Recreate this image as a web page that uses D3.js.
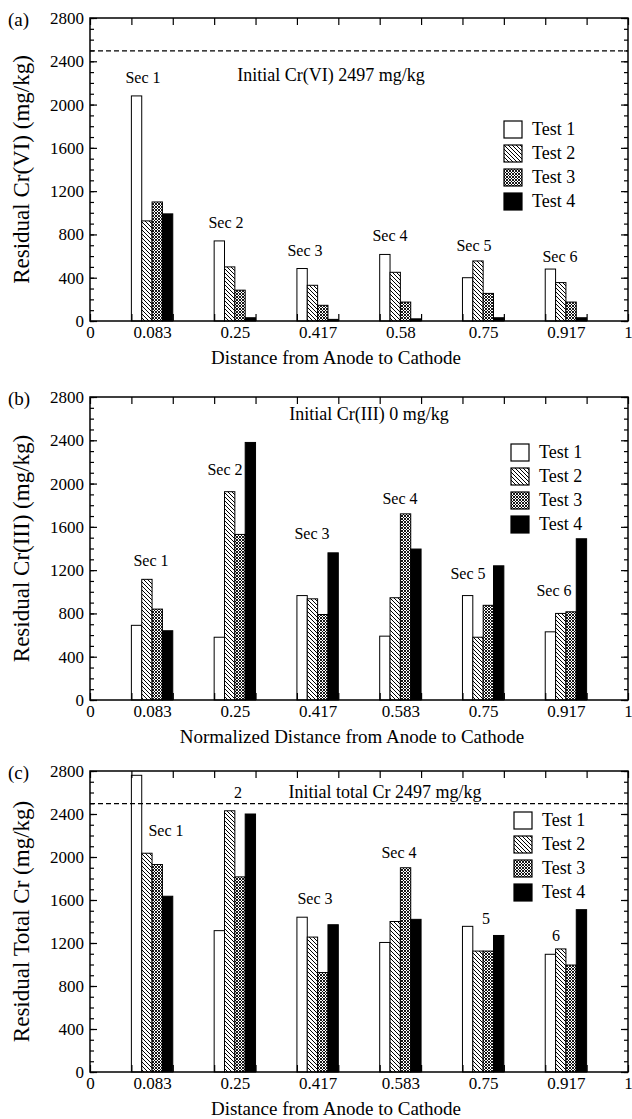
<!doctype html>
<html lang="en">
<head>
<meta charset="utf-8">
<style>
  body { margin: 0; background: #fff; }
  svg text { font-family: "Liberation Serif", "Times New Roman", serif; fill: #000; }
  .tick text { font-size: 17px; }
  .tick line { stroke: #000; stroke-width: 1.2; }
</style>
<script src="https://d3js.org/d3.v7.min.js"></script>
</head>
<body>
<svg width="632" height="1119"></svg>
<script>
// values, one row per section: [Test 1, Test 2, Test 3, Test 4]
const sections = ["Sec 1", "Sec 2", "Sec 3", "Sec 4", "Sec 5", "Sec 6"];
const tests = ["Test 1", "Test 2", "Test 3", "Test 4"];

const crVI = [
  [2080, 925, 1100, 990],
  [740, 500, 285, 30],
  [485, 330, 145, 15],
  [615, 450, 175, 20],
  [400, 555, 255, 30],
  [480, 355, 175, 30]
];
const crIII = [
  [690, 1115, 840, 640],
  [580, 1925, 1530, 2380],
  [965, 935, 790, 1360],
  [590, 945, 1720, 1395],
  [965, 580, 875, 1240],
  [630, 800, 815, 1490]
];
const crTotal = [
  [2760, 2035, 1930, 1635],
  [1315, 2430, 1815, 2400],
  [1440, 1255, 925, 1370],
  [1205, 1400, 1900, 1420],
  [1355, 1125, 1125, 1270],
  [1095, 1145, 995, 1510]
];

const xLabelsA = ["0", "0.083", "0.25", "0.417", "0.58", "0.75", "0.917", "1"];
const xLabelsBC = ["0", "0.083", "0.25", "0.417", "0.583", "0.75", "0.917", "1"];
const yMajor = d3.range(0, 2801, 400);
const initialCr = 2497;

const svg = d3.select("svg");
const defs = svg.append("defs");

// Test 2: back-slash hatching
const hatch = defs.append("pattern").attr("id", "hatch")
  .attr("patternUnits", "userSpaceOnUse").attr("width", 4).attr("height", 4);
hatch.append("rect").attr("width", 4).attr("height", 4).attr("fill", "#fff");
hatch.append("path").attr("d", "M0,0L4,4M-1,3L1,5M3,-1L5,1")
  .attr("stroke", "#000").attr("stroke-width", 1);

// Test 3: dense cross hatch
const cross = defs.append("pattern").attr("id", "cross")
  .attr("patternUnits", "userSpaceOnUse").attr("width", 3).attr("height", 3);
cross.append("rect").attr("width", 3).attr("height", 3).attr("fill", "#fff");
cross.append("path").attr("d", "M0,0L3,3M3,0L0,3")
  .attr("stroke", "#000").attr("stroke-width", 0.9);

const fills = ["#fff", "url(#hatch)", "url(#cross)", "#000"];

const left = 90, right = 628;

const panels = [
  {
    tag: "(a)", data: crVI, top: 18, bottom: 321, labels: xLabelsA,
    yTitle: "Residual Cr(VI) (mg/kg)", xTitle: "Distance from Anode to Cathode", xTitleX: 336,
    dashed: true, note: "Initial Cr(VI) 2497 mg/kg", noteAt: [331, 75],
    secAt: [[143, 77], [226, 222], [305, 250], [390, 235], [474, 245], [560, 256]],
    secText: sections,
    legend: { x: 504, y: 129 }
  },
  {
    tag: "(b)", data: crIII, top: 397, bottom: 700, labels: xLabelsBC,
    yTitle: "Residual Cr(III) (mg/kg)", xTitle: "Normalized Distance from Anode to Cathode", xTitleX: 352,
    dashed: false, note: "Initial Cr(III) 0 mg/kg", noteAt: [369, 414],
    secAt: [[151, 560], [225, 469], [312, 533], [400, 498], [468, 573], [554, 590]],
    secText: sections,
    legend: { x: 511, y: 452 }
  },
  {
    tag: "(c)", data: crTotal, top: 771, bottom: 1072, labels: xLabelsBC,
    yTitle: "Residual Total Cr (mg/kg)", xTitle: "Distance from Anode to Cathode", xTitleX: 336,
    dashed: true, note: "Initial total Cr 2497 mg/kg", noteAt: [385, 792],
    secAt: [[166, 830], [238, 792], [315, 898], [399, 852], [486, 918], [556, 935]],
    secText: ["Sec 1", "2", "Sec 3", "Sec 4", "5", "6"],
    legend: { x: 514, y: 820 }
  }
];

panels.forEach(p => {
  const g = svg.append("g");
  const x = d3.scaleLinear().domain([0, 13]).range([left, right]);
  const y = d3.scaleLinear().domain([0, 2800]).range([p.bottom, p.top]);
  const bw = x(0.25) - x(0);

  // bars
  p.data.forEach((row, i) => {
    g.selectAll(null)
      .data(row)
      .enter()
      .append("rect")
      .attr("x", (d, j) => x(2 * i + 1 + j * 0.25))
      .attr("y", d => y(d))
      .attr("width", bw)
      .attr("height", d => y(0) - y(d))
      .attr("fill", (d, j) => fills[j])
      .attr("stroke", "#000")
      .attr("stroke-width", 1);
  });

  // ticks, all pointing inward
  const clean = sel => sel.select(".domain").remove();
  g.append("g").attr("transform", `translate(0,${p.bottom})`)
    .call(d3.axisBottom(x).tickValues(d3.range(0, 14)).tickSizeInner(-7).tickSizeOuter(0).tickFormat(""))
    .call(clean);
  g.append("g").attr("transform", `translate(0,${p.bottom})`)
    .call(d3.axisBottom(x).tickValues([0, 1.5, 3.5, 5.5, 7.5, 9.5, 11.5, 13]).tickSize(0).tickPadding(5)
      .tickFormat((d, i) => p.labels[i]))
    .call(clean);
  g.append("g").attr("transform", `translate(0,${p.top})`)
    .call(d3.axisTop(x).tickValues(d3.range(0, 14)).tickSizeInner(-7).tickSizeOuter(0).tickFormat(""))
    .call(clean);
  g.append("g").attr("transform", `translate(${left},0)`)
    .call(d3.axisLeft(y).tickValues(d3.range(0, 2801, 100)).tickSizeInner(-4).tickSizeOuter(0).tickFormat(""))
    .call(clean);
  g.append("g").attr("transform", `translate(${left},0)`)
    .call(d3.axisLeft(y).tickValues(yMajor).tickSizeInner(-7).tickSizeOuter(0).tickPadding(6)
      .tickFormat(d3.format("d")))
    .call(clean);
  g.append("g").attr("transform", `translate(${right},0)`)
    .call(d3.axisRight(y).tickValues(d3.range(0, 2801, 100)).tickSizeInner(-4).tickSizeOuter(0).tickFormat(""))
    .call(clean);
  g.append("g").attr("transform", `translate(${right},0)`)
    .call(d3.axisRight(y).tickValues(yMajor).tickSizeInner(-7).tickSizeOuter(0).tickFormat(""))
    .call(clean);

  // frame
  g.append("rect")
    .attr("x", left).attr("y", p.top)
    .attr("width", right - left).attr("height", p.bottom - p.top)
    .attr("fill", "none").attr("stroke", "#000").attr("stroke-width", 1.5);

  if (p.dashed) {
    g.append("line")
      .attr("x1", left).attr("x2", right)
      .attr("y1", y(initialCr)).attr("y2", y(initialCr))
      .attr("stroke", "#000").attr("stroke-width", 1.2)
      .attr("stroke-dasharray", "5,3");
  }

  g.append("text")
    .attr("x", p.noteAt[0]).attr("y", p.noteAt[1])
    .attr("text-anchor", "middle").attr("dominant-baseline", "central")
    .attr("font-size", 18)
    .text(p.note);

  g.selectAll(null)
    .data(p.secText)
    .enter()
    .append("text")
    .attr("x", (d, i) => p.secAt[i][0])
    .attr("y", (d, i) => p.secAt[i][1])
    .attr("text-anchor", "middle").attr("dominant-baseline", "central")
    .attr("font-size", 16)
    .text(d => d);

  // legend
  const lg = g.append("g").attr("transform", `translate(${p.legend.x},${p.legend.y})`);
  tests.forEach((t, j) => {
    lg.append("rect")
      .attr("x", 0).attr("y", j * 24 - 8)
      .attr("width", 18).attr("height", 17)
      .attr("fill", fills[j]).attr("stroke", "#000").attr("stroke-width", 1.2);
    lg.append("text")
      .attr("x", 28).attr("y", j * 24)
      .attr("dominant-baseline", "central")
      .attr("font-size", 18)
      .text(t);
  });

  // titles
  svg.append("text")
    .attr("x", 8).attr("y", p.top + 1)
    .attr("dominant-baseline", "central")
    .attr("font-size", 19)
    .text(p.tag);

  svg.append("text")
    .attr("transform", `translate(29,${(p.top + p.bottom) / 2}) rotate(-90)`)
    .attr("text-anchor", "middle")
    .attr("font-size", 23)
    .text(p.yTitle);

  svg.append("text")
    .attr("x", p.xTitleX).attr("y", p.bottom + 36)
    .attr("text-anchor", "middle").attr("dominant-baseline", "central")
    .attr("font-size", 19)
    .text(p.xTitle);
});
</script>
</body>
</html>
